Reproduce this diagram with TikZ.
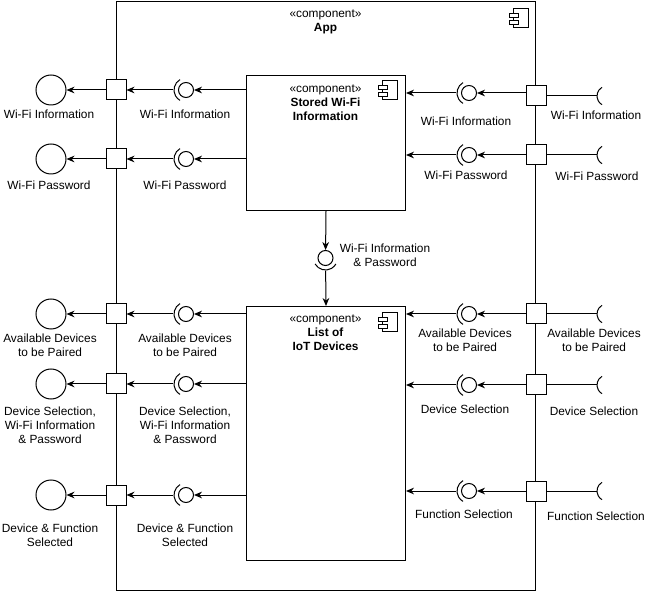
\documentclass[tikz,border=0pt]{standalone}
\usepackage{fontspec}
\setmainfont{Liberation Sans}
\usetikzlibrary{arrows.meta}

\begin{document}
\begin{tikzpicture}[x=0.75pt,y=-0.75pt,line width=0.75pt,
		>={Stealth[length=6pt,width=5pt]},
		font=\fontsize{8.9}{10.5}\selectfont,
		comp box/.style={rectangle,draw,anchor=north west,inner sep=0pt},
		port box/.style={rectangle,draw,fill=white,minimum size=15pt,inner sep=0pt},
		ball/.style={circle,draw,fill=white,minimum size=11.25pt,inner sep=0pt},
		iface/.style={circle,draw,minimum size=22.5pt,inner sep=0pt},
		txt/.style={align=center,inner sep=0pt},
		compicon/.pic={
			\draw (-15,0) rectangle (0,19);
			\draw[fill=white] (-19,5) rectangle (-10,9);
			\draw[fill=white] (-19,12) rectangle (-10,16);
		}]
		
		\useasboundingbox (0,0) rectangle (646,591);
		
		% components
		\node[comp box,minimum width=314.25pt,minimum height=441.75pt] (app) at (116,1) {};
		\node[comp box,minimum width=119.25pt,minimum height=101.25pt] (stored) at (246,75) {};
		\node[comp box,minimum width=119.25pt,minimum height=190.5pt] (list) at (246,306) {};
		\pic at (528,9) {compicon};
		\pic at (397,81) {compicon};
		\pic at (397,313) {compicon};
		
		\node[txt] (apptxt) at (325.5,21.5) {«component»\\\textbf{App}};
		\node[txt] (storedtxt) at (325.5,103) {«component»\\\textbf{Stored Wi-Fi}\\\textbf{Information}};
		\node[txt] (listtxt) at (325.5,332.5) {«component»\\\textbf{List of}\\\textbf{IoT Devices}};
		
		% left side
		\node[port box] (lp1) at (116,90) {};
		\node[port box] (lp2) at (116,159) {};
		\node[port box] (lp3) at (116,314) {};
		\node[port box] (lp4) at (116,384) {};
		\node[port box] (lp5) at (116,495) {};
		
		\node[iface] (lc1) at (51,90) {};
		\node[iface] (lc2) at (51,159) {};
		\node[iface] (lc3) at (51,314) {};
		\node[iface] (lc4) at (51,384) {};
		\node[iface] (lc5) at (51,495) {};
		
		\node[ball] (lb1) at (186,90) {};
		\node[ball] (lb2) at (186,159) {};
		\node[ball] (lb3) at (186,314) {};
		\node[ball] (lb4) at (186,384) {};
		\node[ball] (lb5) at (186,495) {};
		
		\node[txt] (lt1) at (49,114) {Wi-Fi Information};
		\node[txt] (lt2) at (49,185) {Wi-Fi Password};
		\node[txt] (lt3) at (50,345) {Available Devices\\to be Paired};
		\node[txt] (lt4) at (50,425.5) {Device Selection,\\Wi-Fi Information\\\& Password};
		\node[txt] (lt5) at (50,535) {Device \& Function\\Selected};
		
		\node[txt] (lm1) at (185,114) {Wi-Fi Information};
		\node[txt] (lm2) at (185,185) {Wi-Fi Password};
		\node[txt] (lm3) at (185,345) {Available Devices\\to be Paired};
		\node[txt] (lm4) at (185,425.5) {Device Selection,\\Wi-Fi Information\\\& Password};
		\node[txt] (lm5) at (185,535) {Device \& Function\\Selected};
		
		% right side
		\node[port box] (rp1) at (536,96) {};
		\node[port box] (rp2) at (536,155) {};
		\node[port box] (rp3) at (536,314) {};
		\node[port box] (rp4) at (536,385) {};
		\node[port box] (rp5) at (536,491) {};
		
		\node[ball] (rb1) at (469,93) {};
		\node[ball] (rb2) at (469,155) {};
		\node[ball] (rb3) at (469,314) {};
		\node[ball] (rb4) at (469,385) {};
		\node[ball] (rb5) at (469,491) {};
		
		\coordinate (rs1) at (597,96);
		\coordinate (rs2) at (597,155);
		\coordinate (rs3) at (597,314);
		\coordinate (rs4) at (597,385);
		\coordinate (rs5) at (597,491);
		
		\node[txt] (rm1) at (466,121) {Wi-Fi Information};
		\node[txt] (rm2) at (466,175) {Wi-Fi Password};
		\node[txt] (rm3) at (465,340) {Available Devices\\to be Paired};
		\node[txt] (rm4) at (465,409) {Device Selection};
		\node[txt] (rm5) at (464,514) {Function Selection};
		
		\node[txt] (rt1) at (596,115) {Wi-Fi Information};
		\node[txt] (rt2) at (597,176) {Wi-Fi Password};
		\node[txt] (rt3) at (594,340) {Available Devices\\to be Paired};
		\node[txt] (rt4) at (594,411) {Device Selection};
		\node[txt] (rt5) at (596,516) {Function Selection};
		
		% between the components
		\node[ball] (vb) at (325.5,258) {};
		\node[txt] (vt) at (385,255) {Wi-Fi Information\\\& Password};
		
		% sockets
		\foreach \n in {lb1,lb2,lb3,lb4,lb5,rb1,rb2,rb3,rb4,rb5}
		\draw ([shift={(120:9pt)}]\n.center) arc[start angle=120,end angle=240,radius=9pt];
		\foreach \n in {rs1,rs2,rs3,rs4,rs5}
		\draw ([shift={(60:7.5pt)}]\n) arc[start angle=120,end angle=240,radius=7.5pt];
		\draw ([shift={(210:9pt)}]vb.center) arc[start angle=210,end angle=330,radius=9pt];
		
		% connectors
		\draw[->] (lb1 -| stored.west) -- (lb1);
		\draw[->] (lb2 -| stored.west) -- (lb2);
		\draw[->] (lb3 -| list.west) -- (lb3);
		\draw[->] (lb4 -| list.west) -- (lb4);
		\draw[->] (lb5 -| list.west) -- (lb5);
		\draw[->,shorten <=3.4pt] (lb1) -- (lp1);
		\draw[->,shorten <=3.4pt] (lb2) -- (lp2);
		\draw[->,shorten <=3.4pt] (lb3) -- (lp3);
		\draw[->,shorten <=3.4pt] (lb4) -- (lp4);
		\draw[->,shorten <=3.4pt] (lb5) -- (lp5);
		\draw[->] (lp1) -- (lc1);
		\draw[->] (lp2) -- (lc2);
		\draw[->] (lp3) -- (lc3);
		\draw[->] (lp4) -- (lc4);
		\draw[->] (lp5) -- (lc5);
		
		\draw (rp1) -- (rs1);
		\draw (rp2) -- (rs2);
		\draw (rp3) -- (rs3);
		\draw (rp4) -- (rs4);
		\draw (rp5) -- (rs5);
		\draw[->] (rb1 -| rp1.west) -- (rb1);
		\draw[->] (rp2) -- (rb2);
		\draw[->] (rp3) -- (rb3);
		\draw[->] (rp4) -- (rb4);
		\draw[->] (rp5) -- (rb5);
		\draw[->,shorten <=3.4pt] (rb1) -- (rb1 -| stored.east);
		\draw[->,shorten <=3.4pt] (rb2) -- (rb2 -| stored.east);
		\draw[->,shorten <=3.4pt] (rb3) -- (rb3 -| list.east);
		\draw[->,shorten <=3.4pt] (rb4) -- (rb4 -| list.east);
		\draw[->,shorten <=3.4pt] (rb5) -- (rb5 -| list.east);
		
		\draw[->] (stored.south) -- (vb);
		\draw[->,shorten <=3.4pt] (vb) -- (list.north);
		\end{tikzpicture}
\end{document}
